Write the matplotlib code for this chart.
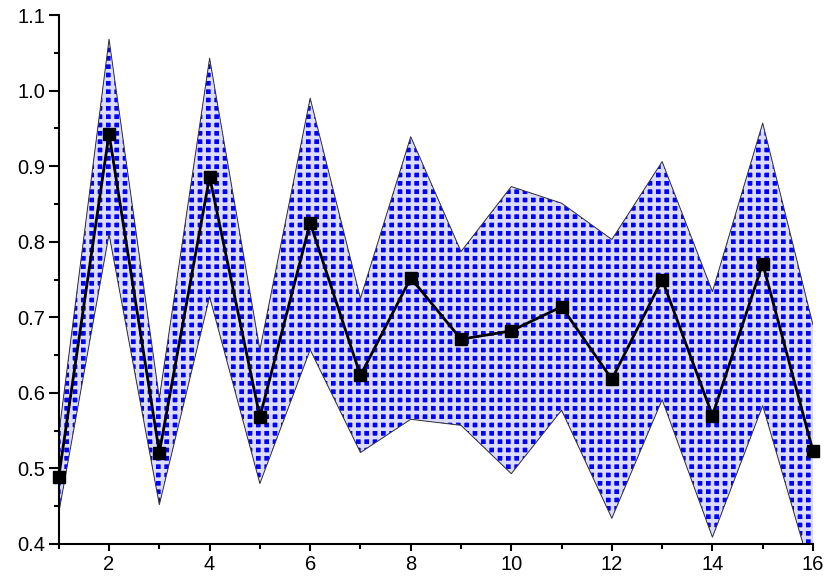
import numpy as np
import matplotlib
matplotlib.use("Agg")
import matplotlib.pyplot as plt
from matplotlib.ticker import MultipleLocator

# data
x = np.arange(1, 17)
mean = [0.489, 0.943, 0.521, 0.886, 0.568, 0.825, 0.623, 0.752,
        0.671, 0.682, 0.714, 0.618, 0.750, 0.570, 0.771, 0.523]
upper = [0.545, 1.068, 0.593, 1.043, 0.657, 0.990, 0.725, 0.939,
         0.787, 0.873, 0.851, 0.803, 0.906, 0.734, 0.957, 0.690]
lower = [0.441, 0.810, 0.452, 0.727, 0.480, 0.657, 0.521, 0.565,
         0.557, 0.493, 0.577, 0.434, 0.591, 0.409, 0.583, 0.355]

plt.rcParams['font.family'] = ['Liberation Sans', 'DejaVu Sans']
plt.rcParams['hatch.linewidth'] = 2.6

fig = plt.figure(figsize=(8.3, 5.87), dpi=100)
ax = fig.add_axes([0.0708, 0.0733, 0.9087, 0.9011])

# hatched band: blue squares between light grid lines
ax.fill_between(x, lower, upper, facecolor='#0000ff', edgecolor='#dcdcff',
                hatch='++', linewidth=0, zorder=1)
ax.plot(x, upper, color='#333333', lw=0.7, zorder=2)
ax.plot(x, lower, color='#333333', lw=0.7, zorder=2)

ax.plot(x, mean, color='black', lw=2.0, marker='s', markersize=8,
        zorder=4, clip_on=False)

ax.set_xlim(1, 16)
ax.set_ylim(0.4, 1.1)
ax.xaxis.set_major_locator(MultipleLocator(2))
ax.xaxis.set_minor_locator(MultipleLocator(1))
ax.yaxis.set_major_locator(MultipleLocator(0.1))
ax.yaxis.set_minor_locator(MultipleLocator(0.05))
ax.xaxis.set_major_formatter(plt.FuncFormatter(lambda v, p: '%d' % v))
ax.yaxis.set_major_formatter(plt.FuncFormatter(lambda v, p: '%.1f' % v))

for s in ['top', 'right']:
    ax.spines[s].set_visible(False)
for s in ['left', 'bottom']:
    ax.spines[s].set_linewidth(1.5)
    ax.spines[s].set_zorder(5)

ax.tick_params(axis='both', which='major', direction='out', width=1.5,
               labelsize=14.5, pad=3)
ax.tick_params(axis='y', which='major', length=7)
ax.tick_params(axis='x', which='major', length=5)
ax.tick_params(axis='both', which='minor', direction='out', width=1.5, length=3.5)

fig.savefig('out.png', dpi=100)
